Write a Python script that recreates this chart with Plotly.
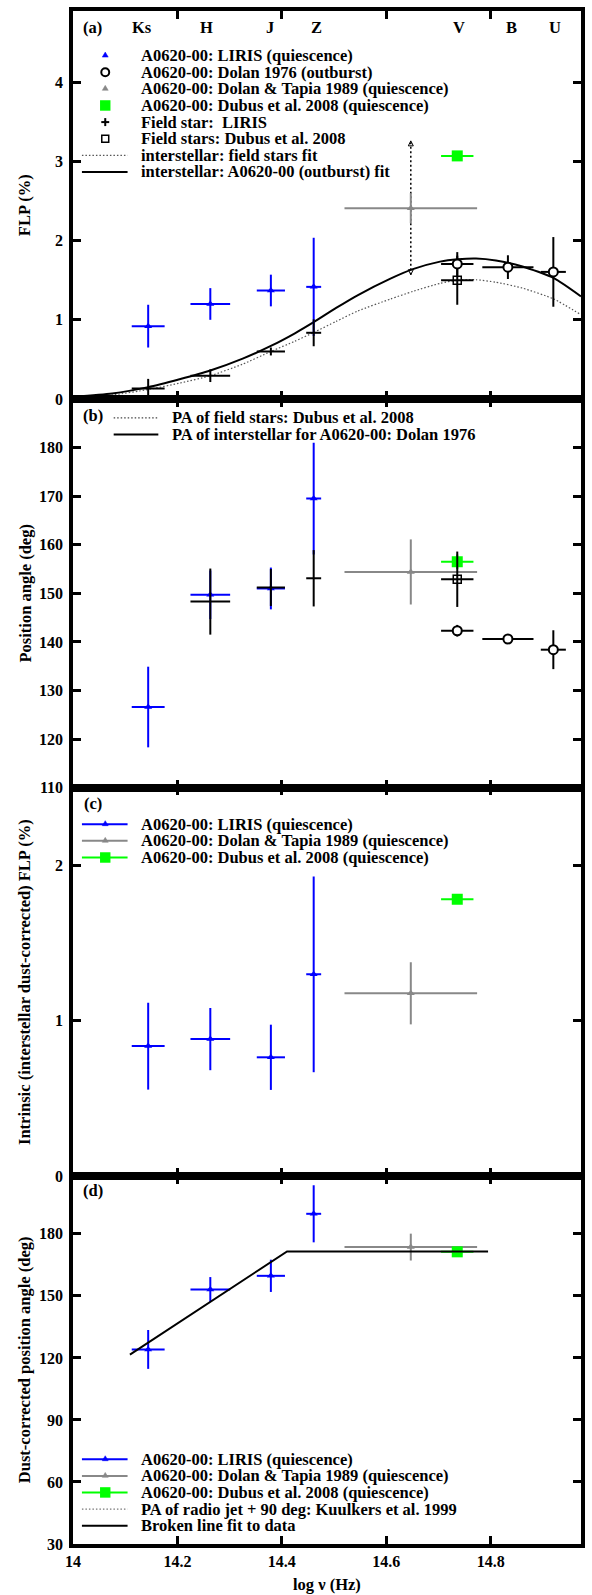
import plotly.graph_objects as go
from plotly.subplots import make_subplots

# ---------------- data ----------------
bands = ["Ks", "H", "J", "Z", "V", "B", "U"]
band_lognu = [14.132, 14.256, 14.377, 14.467, 14.739, 14.839, 14.924]

liris_x = [14.144, 14.263, 14.379, 14.461]
liris_xerr = [0.0315, 0.038, 0.027, 0.0143]
liris_flp = [0.92, 1.20, 1.37, 1.416]
liris_flp_err = [0.27, 0.20, 0.20, 0.62]
liris_pa = [126.6, 149.7, 151.0, 169.5]
liris_pa_err = [8.3, 5.0, 4.3, 11.5]
liris_int_flp = [0.836, 0.881, 0.764, 1.298]
liris_int_flp_err = [0.28, 0.20, 0.21, 0.63]
liris_dc_pa = [124.1, 153.1, 159.7, 189.7]
liris_dc_pa_err = [9.4, 6.0, 7.8, 13.8]

field_flp = [0.134, 0.294, 0.60, 0.836]
field_flp_err = [0.12, 0.08, 0.05, 0.17]
field_pa_x = [14.263, 14.379, 14.461]
field_pa_xerr = [0.038, 0.027, 0.0143]
field_pa = [148.3, 151.2, 153.1]
field_pa_err = [6.8, 3.8, 5.8]

dolan76_x = [14.736, 14.833, 14.920]
dolan76_xerr = [0.031, 0.049, 0.024]
dolan76_flp = [1.705, 1.665, 1.605]
dolan76_flp_err = [0.15, 0.15, 0.44]
dolan76_pa = [142.3, 140.6, 138.4]
dolan76_pa_err = [1.2, 1.0, 4.0]

dt89_x = [14.647]
dt89_xerr = [0.127]
dt89_flp = [2.41]
dt89_flp_err = [0.19]
dt89_flp_range = [1.57, 3.26]
dt89_pa = [154.4]
dt89_pa_err = [6.7]
dt89_int_flp = [1.176]
dt89_int_flp_err = [0.20]
dt89_dc_pa = [173.6]
dt89_dc_pa_err = [6.5]

dubus_x = [14.736]
dubus_xerr = [0.031]
dubus_flp = [3.07]
dubus_flp_err = [0.03]
dubus_pa = [156.5]
dubus_pa_err = [1.5]
dubus_int_flp = [1.782]
dubus_int_flp_err = [0.03]
dubus_dc_pa = [171.3]
dubus_dc_pa_err = [1.5]
dubus_field_flp = [1.50]
dubus_field_flp_err = [0.31]
dubus_field_pa = [152.9]
dubus_field_pa_err = [5.7]

fit_x = [14.0, 14.075, 14.144, 14.204, 14.263, 14.325, 14.379, 14.425, 14.461,
         14.504, 14.545, 14.608, 14.651, 14.703, 14.737, 14.772, 14.81, 14.861,
         14.921, 14.973]
fit_outburst = [0.03, 0.07, 0.15, 0.25, 0.36, 0.51, 0.67, 0.83, 0.97,
                1.15, 1.31, 1.52, 1.64, 1.735, 1.765, 1.775, 1.75, 1.674,
                1.527, 1.296]
fit_field = [0.02, 0.05, 0.12, 0.2, 0.294, 0.44, 0.6, 0.73, 0.84,
             0.98, 1.11, 1.262, 1.359, 1.46, 1.5, 1.506, 1.475, 1.40,
             1.262, 1.064]

pa_field_dubus = 153.0
pa_is_dolan = 141.4
jet_pa_lines = [120, 135, 150]

broken_x = [14.109, 14.41, 14.795]
broken_pa = [121.6, 171.5, 171.5]

xrange_ = [14.0, 14.973]
x_ticks = [14, 14.2, 14.4, 14.6, 14.8]

# ---------------- layout geometry (pixels) ----------------
W, H = 592, 1595
L, R, T, B = 73, 585, 7, 1544
bounds = [T, 396, 785.7, 1175, B]
FONT = "Liberation Serif"
BLUE, GRAY, GREEN, BLACK = "#0000ff", "#888888", "#00ff00", "#000000"
DOT = "1.5px,2px"


def px(xp):
    return (xp - L) / (R - L)


def py(yp):
    return (B - yp) / (B - T)


fig = make_subplots(rows=4, cols=1, vertical_spacing=0)


def pts(row, x, y, xerr, yerr, color, symbol, size, mcolor=None, lw=0, mop=1):
    fig.add_trace(go.Scatter(
        x=x, y=y, mode="markers", showlegend=False,
        marker=dict(symbol=symbol, size=size, color=mcolor or color, opacity=mop,
                    line=dict(color=color, width=lw)),
        error_x=dict(type="data", array=xerr, color=color, thickness=2, width=0),
        error_y=dict(type="data", array=yerr, color=color, thickness=2, width=0),
    ), row=row, col=1)


def line(row, x, y, color=BLACK, width=2, dash="solid"):
    fig.add_trace(go.Scatter(x=x, y=y, mode="lines", showlegend=False,
                             line=dict(color=color, width=width, dash=dash, shape="spline",
                                       smoothing=0.6)),
                  row=row, col=1)


# ---- panel (a)
line(1, fit_x, fit_field, color="#555555", width=1.2, dash=DOT)
line(1, fit_x, fit_outburst, width=2)
fig.add_trace(go.Scatter(x=dt89_x * 2, y=dt89_flp_range, mode="lines+markers", showlegend=False,
                         line=dict(color=BLACK, width=1.5, dash="2px,2.5px"),
                         marker=dict(symbol=["arrow-down-open", "arrow-up-open"], size=5,
                                     color=BLACK, line=dict(color=BLACK, width=1))),
              row=1, col=1)
pts(1, liris_x, liris_flp, liris_xerr, liris_flp_err, BLUE, "triangle-up", 7)
pts(1, liris_x, field_flp, liris_xerr, field_flp_err, BLACK, "cross-thin", 6, lw=1, mop=0)
pts(1, dt89_x, dt89_flp, dt89_xerr, dt89_flp_err, GRAY, "triangle-up", 7)
pts(1, dubus_x, dubus_flp, dubus_xerr, dubus_flp_err, GREEN, "square", 11)
pts(1, dubus_x, dubus_field_flp, dubus_xerr, dubus_field_flp_err, BLACK, "square-open", 8, lw=1.5)
pts(1, dolan76_x, dolan76_flp, dolan76_xerr, dolan76_flp_err, BLACK, "circle", 9,
    mcolor="white", lw=2)

# ---- panel (b)
fig.add_hline(y=pa_field_dubus, row=2, col=1, line=dict(color="#444444", width=1.2, dash=DOT))
fig.add_hline(y=pa_is_dolan, row=2, col=1, line=dict(color=BLACK, width=2))
pts(2, liris_x, liris_pa, liris_xerr, liris_pa_err, BLUE, "triangle-up", 7)
pts(2, field_pa_x, field_pa, field_pa_xerr, field_pa_err, BLACK, "cross-thin", 6, lw=1, mop=0)
pts(2, dt89_x, dt89_pa, dt89_xerr, dt89_pa_err, GRAY, "triangle-up", 7)
pts(2, dubus_x, dubus_pa, dubus_xerr, dubus_pa_err, GREEN, "square", 11)
pts(2, dubus_x, dubus_field_pa, dubus_xerr, dubus_field_pa_err, BLACK, "square-open", 8, lw=1.5)
pts(2, dolan76_x, dolan76_pa, dolan76_xerr, dolan76_pa_err, BLACK, "circle", 9,
    mcolor="white", lw=2)

# ---- panel (c)
pts(3, liris_x, liris_int_flp, liris_xerr, liris_int_flp_err, BLUE, "triangle-up", 7)
pts(3, dt89_x, dt89_int_flp, dt89_xerr, dt89_int_flp_err, GRAY, "triangle-up", 7)
pts(3, dubus_x, dubus_int_flp, dubus_xerr, dubus_int_flp_err, GREEN, "square", 11)

# ---- panel (d)
for v in jet_pa_lines:
    fig.add_hline(y=v, row=4, col=1, line=dict(color="#777777", width=1.2, dash=DOT))
pts(4, liris_x, liris_dc_pa, liris_xerr, liris_dc_pa_err, BLUE, "triangle-up", 7)
pts(4, dt89_x, dt89_dc_pa, dt89_xerr, dt89_dc_pa_err, GRAY, "triangle-up", 7)
pts(4, dubus_x, dubus_dc_pa, dubus_xerr, dubus_dc_pa_err, GREEN, "square", 11)
fig.add_trace(go.Scatter(x=broken_x, y=broken_pa, mode="lines", showlegend=False,
                         line=dict(color=BLACK, width=2)), row=4, col=1)

# ---------------- axes ----------------
yranges = [[0, 4.9], [110, 190], [0, 2.5], [30, 208]]
yticks = [[0, 1, 2, 3, 4], list(range(110, 190, 10)), [0, 1, 2], list(range(30, 181, 30))]
tickfont = dict(family=FONT, size=16, color=BLACK, weight="bold")
for i in range(4):
    dom = [py(bounds[i + 1]), py(bounds[i])]
    sfx = "" if i == 0 else str(i + 1)
    fig.layout["yaxis" + sfx].update(
        domain=dom, range=yranges[i], tickvals=yticks[i], ticks="inside", ticklen=8,
        tickwidth=3, tickcolor=BLACK, showline=True, linewidth=3.5, linecolor=BLACK,
        mirror="ticks", showgrid=False, zeroline=False, tickfont=tickfont,
        ticklabelstandoff=3)
    fig.layout["xaxis" + sfx].update(
        range=xrange_, tickvals=x_ticks, ticktext=["14", "14.2", "14.4", "14.6", "14.8"],
        ticks="inside", ticklen=8, tickwidth=3, tickcolor=BLACK, showline=True,
        linewidth=3.5, linecolor=BLACK, mirror="ticks", showgrid=False, zeroline=False,
        showticklabels=(i == 3), tickfont=tickfont)

# ---------------- annotations / legends ----------------
ann = []


def text(xp, yp, s, anchor="left", size=16.5, angle=0):
    ann.append(dict(x=px(xp), y=py(yp), xref="paper", yref="paper", text="<b>" + s + "</b>",
                    showarrow=False, xanchor=anchor, yanchor="middle", textangle=angle,
                    font=dict(family=FONT, size=size, color=BLACK)))


shapes = []


def seg(x0, y0, x1, y1, color=BLACK, width=2, dash="solid"):
    shapes.append(dict(type="line", xref="paper", yref="paper", x0=px(x0), y0=py(y0),
                       x1=px(x1), y1=py(y1), line=dict(color=color, width=width, dash=dash)))


def tri(cx, cy, color, w=7, h=6):
    path = "M{},{} L{},{} L{},{} Z".format(px(cx - w / 2), py(cy + h / 2), px(cx + w / 2),
                                           py(cy + h / 2), px(cx), py(cy - h / 2))
    shapes.append(dict(type="path", xref="paper", yref="paper", path=path,
                       fillcolor=color, line=dict(color=color, width=0.5)))


def circ(cx, cy, r=4):
    shapes.append(dict(type="circle", xref="paper", yref="paper", x0=px(cx - r), x1=px(cx + r),
                       y0=py(cy + r), y1=py(cy - r), fillcolor="white",
                       line=dict(color=BLACK, width=2)))


def sq(cx, cy, s, fill, color, lw):
    shapes.append(dict(type="rect", xref="paper", yref="paper", x0=px(cx - s / 2), x1=px(cx + s / 2),
                       y0=py(cy + s / 2), y1=py(cy - s / 2), fillcolor=fill,
                       line=dict(color=color, width=lw)))


# panel labels
for lab, yy in zip(["(a)", "(b)", "(c)", "(d)"], [24, 413, 801.7, 1190]):
    text(93, yy, lab, anchor="center")

# band labels (panel a)
for b, xv in zip(bands, band_lognu):
    ann.append(dict(x=xv, y=py(24), xref="x", yref="paper", text="<b>" + b + "</b>",
                    showarrow=False, xanchor="center", yanchor="middle",
                    font=dict(family=FONT, size=16.5, color=BLACK)))

MX, TX, LX0, LX1 = 105.5, 139.4, 82, 128
# legend (a)
rows_a = [51.7 + 16.67 * k for k in range(8)]
labels_a = ["A0620-00: LIRIS (quiescence)", "A0620-00: Dolan 1976 (outburst)",
            "A0620-00: Dolan &amp; Tapia 1989 (quiescence)",
            "A0620-00: Dubus et al. 2008 (quiescence)", "Field star:\u00a0 LIRIS",
            "Field stars: Dubus et al. 2008", "interstellar: field stars fit",
            "interstellar: A0620-00 (outburst) fit"]
for s, yy in zip(labels_a, rows_a):
    text(TX, yy, s)
tri(MX, rows_a[0] - 1, BLUE, 6, 5)
circ(MX, rows_a[1], 4)
tri(MX, rows_a[2] - 1, GRAY, 6, 5)
sq(MX, rows_a[3], 10.5, GREEN, GREEN, 0)
seg(MX - 4, rows_a[4], MX + 4, rows_a[4])
seg(MX, rows_a[4] - 4, MX, rows_a[4] + 4)
sq(MX, rows_a[5], 7, "white", BLACK, 1.5)
seg(LX0, rows_a[6], LX1, rows_a[6], "#555555", 1.2, DOT)
seg(LX0, rows_a[7], LX1, rows_a[7], BLACK, 2)

# legend (b)
rows_b = [415, 431.7]
text(170.7, rows_b[0], "PA of field stars: Dubus et al. 2008")
text(170.7, rows_b[1], "PA of interstellar for A0620-00: Dolan 1976")
seg(114, rows_b[0], 159, rows_b[0], "#444444", 1.2, DOT)
seg(114, rows_b[1], 159, rows_b[1], BLACK, 2)

# legend (c) and (d)
common = ["A0620-00: LIRIS (quiescence)", "A0620-00: Dolan &amp; Tapia 1989 (quiescence)",
          "A0620-00: Dubus et al. 2008 (quiescence)"]


def data_legend(rows):
    for s, yy in zip(common, rows):
        text(TX, yy, s)
    seg(LX0, rows[0], LX1, rows[0], BLUE, 2)
    tri(MX, rows[0] - 1, BLUE, 6, 5)
    seg(LX0, rows[1], LX1, rows[1], GRAY, 2)
    tri(MX, rows[1] - 1, GRAY, 6, 5)
    seg(LX0, rows[2], LX1, rows[2], GREEN, 2)
    sq(MX, rows[2], 10.5, GREEN, GREEN, 0)


data_legend([822.3, 839, 855.7])
rows_d = [1459, 1475.7, 1492.3, 1509, 1525.7]
data_legend(rows_d[:3])
text(TX, rows_d[3], "PA of radio jet + 90 deg: Kuulkers et al. 1999")
text(TX, rows_d[4], "Broken line fit to data")
seg(LX0, rows_d[3], LX1, rows_d[3], "#777777", 1.2, DOT)
seg(LX0, rows_d[4], LX1, rows_d[4], BLACK, 2)

# axis titles
ytitles = ["FLP (%)", "Position angle (deg)", "Intrinsic (interstellar dust-corrected) FLP (%)",
           "Dust-corrected position angle (deg)"]
for i, s in enumerate(ytitles):
    text(24.8, (bounds[i] + bounds[i + 1]) / 2, s, anchor="center", angle=-90)
text((L + R) / 2, 1585, "log \u03bd (Hz)", anchor="center")

fig.update_layout(width=W, height=H, margin=dict(l=L, r=W - R, t=T, b=H - B),
                  paper_bgcolor="white", plot_bgcolor="white", showlegend=False,
                  annotations=ann, shapes=list(fig.layout.shapes) + shapes)

fig.write_html("out.html", config={"displayModeBar": False},
               post_script="document.body.style.margin='0';document.body.style.overflow='hidden';")
